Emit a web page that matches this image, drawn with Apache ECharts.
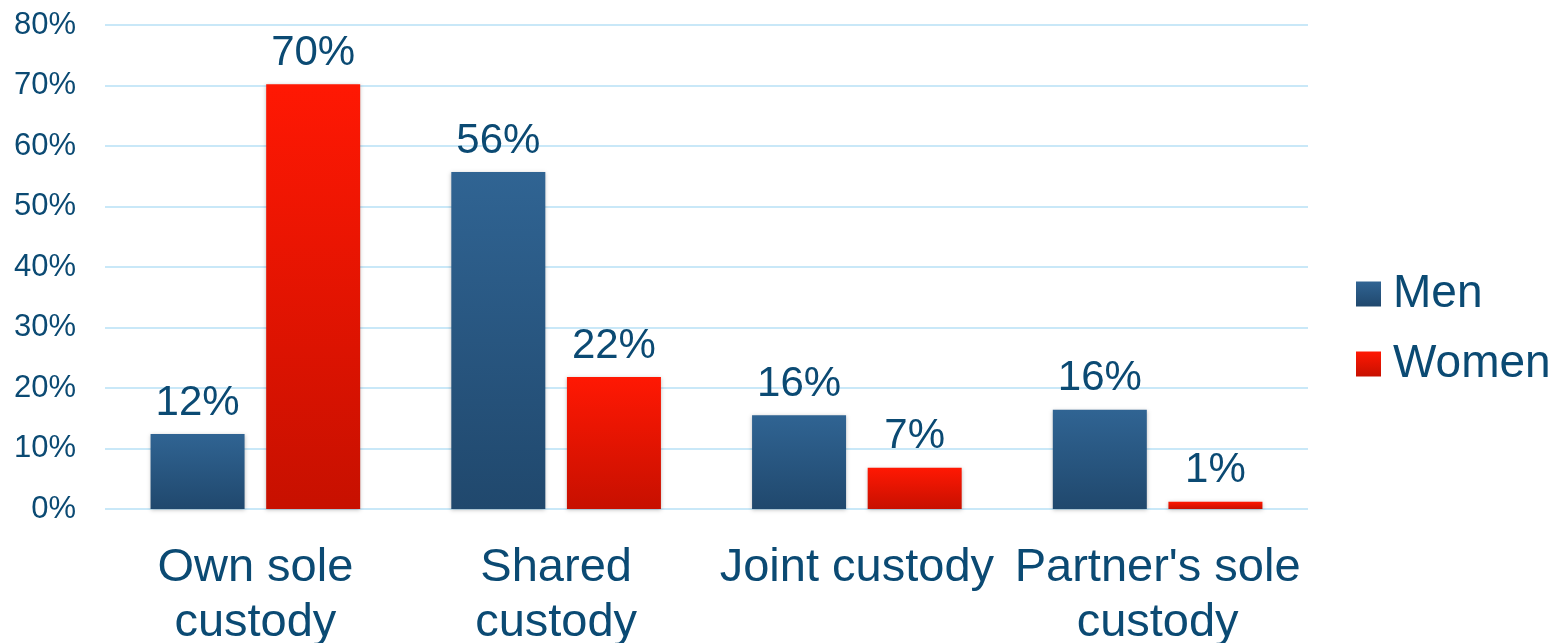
<!DOCTYPE html>
<html><head><meta charset="utf-8">
<script src="https://cdn.jsdelivr.net/npm/echarts@6/dist/echarts.min.js"></script>
<style>html,body{margin:0;padding:0;background:#fff;overflow:hidden}#c{width:1561px;height:643px}</style>
</head><body><div id="c"></div>
<script>
var categories = ["Own sole\ncustody", "Shared\ncustody", "Joint custody", "Partner's sole\ncustody"];
var menValues = [12.4, 55.7, 15.5, 16.4];
var womenValues = [70.2, 21.8, 6.8, 1.2];
var seriesNames = ["Men", "Women"];
var yTicks = [0, 10, 20, 30, 40, 50, 60, 70, 80];

var textColor = '#0b4a73';
var font = 'Liberation Sans, Arial, sans-serif';
var blueGrad = new echarts.graphic.LinearGradient(0,0,0,1,[{offset:0,color:'#306493'},{offset:1,color:'#20486d'}]);
var redGrad = new echarts.graphic.LinearGradient(0,0,0,1,[{offset:0,color:'#ff1803'},{offset:1,color:'#c71000'}]);

var chart = echarts.init(document.getElementById('c'));
function lbl(){
  return {show:true, position:'top', distance:10, color:textColor, fontSize:42, fontFamily:font,
    formatter:function(p){return Math.round(p.value)+'%';}};
}
chart.setOption({
  animation:false,
  grid:{left:105, right:253, top:25, bottom:134, containLabel:false, outerBoundsMode:'none'},
  legend:{
    orient:'vertical', top:266, left:1351,
    itemWidth:25, itemHeight:25, itemGap:24,
    icon:'rect',
    textStyle:{color:textColor, fontSize:46, fontFamily:font, padding:[0,0,0,7]},
    data:seriesNames
  },
  xAxis:{type:'category', data:categories,
    axisLine:{show:false}, axisTick:{show:false},
    axisLabel:{color:textColor, fontSize:47, fontFamily:font, lineHeight:55, margin:32, interval:0}},
  yAxis:{type:'value', min:0, max:80, interval:10,
    axisLine:{show:false}, axisTick:{show:false},
    splitLine:{lineStyle:{color:'#c9e8f8', width:2}},
    axisLabel:{color:textColor, fontSize:31, fontFamily:font, margin:29,
      formatter:function(v){return yTicks.indexOf(v)>=0 ? v+'%' : '';}}},
  series:[
    {name:seriesNames[0], type:'bar', data:menValues, barWidth:94, barGap:'23%',
      itemStyle:{color:blueGrad, shadowBlur:4, shadowColor:'rgba(0,0,0,0.25)', shadowOffsetY:1}, label:lbl()},
    {name:seriesNames[1], type:'bar', data:womenValues, barWidth:94,
      itemStyle:{color:redGrad, shadowBlur:4, shadowColor:'rgba(0,0,0,0.25)', shadowOffsetY:1}, label:lbl()}
  ]
});
</script></body></html>
